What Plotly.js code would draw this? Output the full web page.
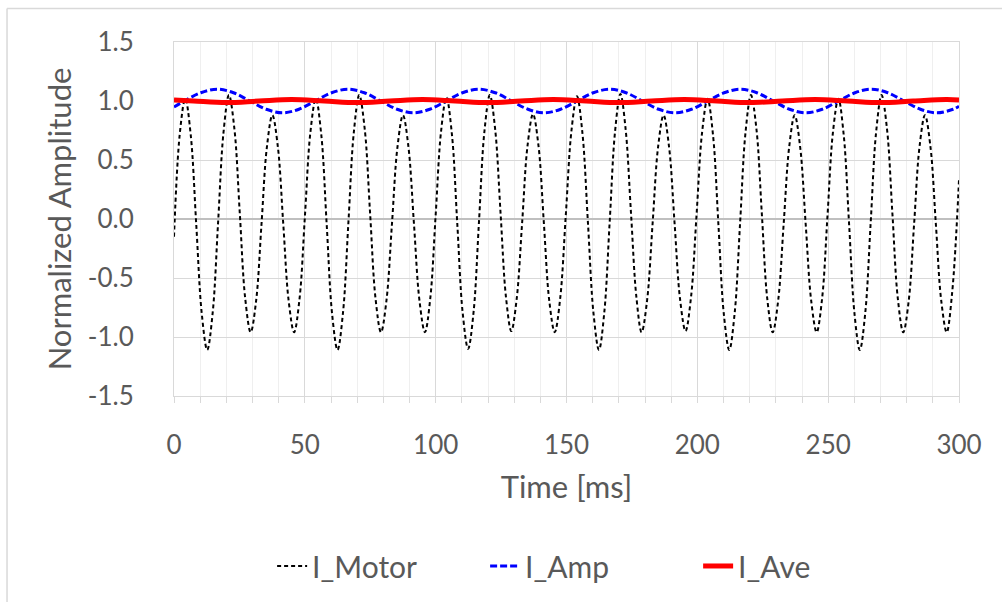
<!DOCTYPE html>
<html>
<head>
<meta charset="utf-8">
<script src="https://cdn.plot.ly/plotly-3.0.1.min.js"></script>
<style>
  html, body { margin: 0; padding: 0; background: #ffffff; }
  #chart { width: 1002px; height: 602px; }
</style>
</head>
<body>
<div id="chart"></div>
<script>
// ---- Data ----
const seriesNames = ["I_Motor", "I_Amp", "I_Ave"];

const motorTime = [
  0, 2.2, 4.3, 6.4, 8.5, 10.6, 12.7, 14.8, 16.85, 18.9, 21.0, 23.1, 25.15, 27.2, 29.3,
  31.4, 33.45, 35.5, 37.6, 39.7, 41.75, 43.8, 45.9, 48.0, 50.05, 52.1, 54.2,
  56.3, 58.35, 60.4, 62.5, 64.6, 66.65, 68.7, 70.8, 72.9, 74.95, 77.0, 79.1,
  81.2, 83.3, 85.4, 87.5, 89.6, 91.7, 93.8, 95.9, 97.95, 100.0, 102.05, 104.1,
  106.2, 108.25, 110.3, 112.4, 114.5, 116.55, 118.6, 120.7, 122.75, 124.8, 126.85, 128.9,
  130.95, 133.05, 135.1, 137.2, 139.3, 141.35, 143.4, 145.5, 147.6, 149.75, 151.9, 154.0,
  156.1, 158.2, 160.3, 162.4, 164.45, 166.5, 168.55, 170.6, 172.6, 174.65, 176.7, 178.7,
  180.8, 182.9, 185.0, 187.1, 189.2, 191.3, 193.4, 195.5, 197.6, 199.7, 201.8, 203.9,
  206.0, 208.05, 210.1, 212.2, 214.3, 216.35, 218.4, 220.5, 222.6, 224.65, 226.7, 228.8,
  230.9, 233.0, 235.1, 237.2, 239.3, 241.4, 243.5, 245.6, 247.7, 249.75, 251.8, 253.9,
  255.95, 258.0, 260.05, 262.1, 264.2, 266.25, 268.3, 270.4, 272.5, 274.55, 276.6, 278.7,
  280.8, 282.85, 284.9, 287.0, 289.1, 291.15, 293.2, 295.3, 297.4, 300.0
];
const motorValue = [
  -0.15, 0.72, 1.02, 0.71, -0.045, -0.80, -1.11, -0.79, -0.03, 0.73, 1.05, 0.76, 0.045, -0.67, -0.96,
  -0.69, -0.04, 0.61, 0.88, 0.61, -0.04, -0.69, -0.96, -0.67, 0.03, 0.73, 1.02,
  0.71, -0.045, -0.80, -1.11, -0.79, -0.03, 0.73, 1.05, 0.76, 0.045, -0.67, -0.96,
  -0.69, -0.04, 0.61, 0.88, 0.61, -0.04, -0.69, -0.96, -0.67, 0.035, 0.74, 1.03,
  0.72, -0.035, -0.79, -1.10, -0.785, -0.025, 0.735, 1.05, 0.757, 0.05, -0.657, -0.95,
  -0.68, -0.03, 0.62, 0.89, 0.62, -0.035, -0.69, -0.96, -0.67, 0.04, 0.75, 1.04,
  0.725, -0.035, -0.795, -1.11, -0.79, -0.025, 0.74, 1.06, 0.76, 0.05, -0.66, -0.96,
  -0.69, -0.04, 0.61, 0.88, 0.61, -0.035, -0.68, -0.95, -0.66, 0.035, 0.73, 1.02,
  0.71, -0.045, -0.80, -1.11, -0.79, -0.03, 0.73, 1.05, 0.76, 0.045, -0.67, -0.96,
  -0.69, -0.04, 0.61, 0.88, 0.61, -0.04, -0.69, -0.96, -0.67, 0.03, 0.73, 1.02,
  0.71, -0.045, -0.80, -1.11, -0.79, -0.03, 0.73, 1.05, 0.76, 0.045, -0.67, -0.96,
  -0.69, -0.04, 0.61, 0.88, 0.61, -0.04, -0.69, -0.96, -0.62, 0.33
];

const ampTime = [
  0, 4, 10.25, 16.5, 22.75, 29, 35.25, 41.5, 47.75, 54, 60.25, 66.5, 72.75, 79, 85.25,
  91.5, 97.75, 104, 110.25, 116.5, 122.75, 129, 135.25, 141.5, 147.75, 154, 160.25,
  166.5, 172.75, 179, 185.25, 191.5, 197.75, 204, 210.25, 216.5, 222.75, 229, 235.25,
  241.5, 247.75, 254, 260.25, 266.5, 272.75, 279, 285.25, 291.5, 297.75, 300
];
const ampValue = [
  0.95, 1.00, 1.07, 1.10, 1.07, 1.00, 0.93, 0.90, 0.93, 1.00, 1.07, 1.10, 1.07, 1.00, 0.93,
  0.90, 0.93, 1.00, 1.07, 1.10, 1.07, 1.00, 0.93, 0.90, 0.93, 1.00, 1.07,
  1.10, 1.07, 1.00, 0.93, 0.90, 0.93, 1.00, 1.07, 1.10, 1.07, 1.00, 0.93,
  0.90, 0.93, 1.00, 1.07, 1.10, 1.07, 1.00, 0.93, 0.90, 0.93, 0.955
];

const aveTime = [
  0, 7.5, 20, 32.5, 45, 57.5, 70, 82.5, 95, 107.5, 120, 132.5, 145, 157.5, 170,
  182.5, 195, 207.5, 220, 232.5, 245, 257.5, 270, 282.5, 295, 300
];
const aveValue = [
  1.008, 1.0, 0.987, 1.0, 1.012, 1.0, 0.987, 1.0, 1.012, 1.0, 0.987, 1.0, 1.012, 1.0, 0.987,
  1.0, 1.012, 1.0, 0.987, 1.0, 1.012, 1.0, 0.987, 1.0, 1.012, 1.009
];

const xTickVals = [0, 50, 100, 150, 200, 250, 300];
const xTickText = ["0", "50", "100", "150", "200", "250", "300"];
const yTickVals = [-1.5, -1.0, -0.5, 0.0, 0.5, 1.0, 1.5];
const yTickText = ["-1.5", "-1.0", "-0.5", "0.0", "0.5", "1.0", "1.5"];

// ---- Chart ----
const FONT = "Lato, 'Open Sans', sans-serif";
const TXT = "#595959";

const traces = [
  {
    x: motorTime, y: motorValue, name: seriesNames[0], type: "scatter", mode: "lines",
    line: { color: "#000000", width: 2, dash: "4px,3px", shape: "spline", smoothing: 1 }
  },
  {
    x: ampTime, y: ampValue, name: seriesNames[1], type: "scatter", mode: "lines",
    line: { color: "#0000ff", width: 3, dash: "7px,3px", shape: "spline", smoothing: 1 }
  },
  {
    x: aveTime, y: aveValue, name: seriesNames[2], type: "scatter", mode: "lines",
    line: { color: "#ff0000", width: 5, shape: "spline", smoothing: 1 }
  }
];

const layout = {
  width: 1002, height: 602,
  margin: { l: 174, r: 43, t: 42, b: 205, pad: 0 },
  paper_bgcolor: "#ffffff", plot_bgcolor: "#ffffff",
  font: { family: FONT, color: TXT, size: 26 },
  showlegend: true,
  legend: {
    orientation: "h", x: 0.532, xanchor: "center", y: -0.476, yanchor: "middle",
    font: { family: FONT, color: TXT, size: 30 }, traceorder: "normal",
    itemwidth: 30, entrywidth: 168, entrywidthmode: "pixels", bgcolor: "rgba(0,0,0,0)"
  },
  xaxis: {
    range: [0, 300], tickmode: "array", tickvals: xTickVals, ticktext: xTickText,
    showgrid: true, gridcolor: "#d9d9d9", gridwidth: 1,
    zeroline: false, showline: true, mirror: true, linecolor: "#d9d9d9", linewidth: 1,
    ticks: "outside", ticklen: 6, tickcolor: "#d9d9d9", tickwidth: 1,
    ticklabelstandoff: 20,
    minor: { dtick: 10, showgrid: true, gridcolor: "#efefef", gridwidth: 1,
             ticks: "outside", ticklen: 6, tickcolor: "#d9d9d9" },
    tickfont: { family: FONT, color: TXT, size: 26 },
    title: { text: "Time [ms]", font: { family: FONT, color: TXT, size: 31 }, standoff: 17 },
    automargin: false, fixedrange: true
  },
  yaxis: {
    range: [-1.5, 1.5], tickmode: "array", tickvals: yTickVals, ticktext: yTickText,
    showgrid: true, gridcolor: "#d9d9d9", gridwidth: 1,
    zeroline: true, zerolinecolor: "#bfbfbf", zerolinewidth: 1.5,
    showline: true, mirror: true, linecolor: "#d9d9d9", linewidth: 1,
    ticks: "", ticklabelstandoff: 34,
    tickfont: { family: FONT, color: TXT, size: 26 },
    title: { text: "Normalized Amplitude", font: { family: FONT, color: TXT, size: 31 }, standoff: 6 },
    automargin: false, fixedrange: true
  },
  shapes: [
    { type: "line", xref: "paper", yref: "paper",
      x0: -0.2127, x1: -0.2127, y0: 1.0948, y1: -0.62,
      line: { color: "#d9d9d9", width: 1.5 } },
    { type: "line", xref: "paper", yref: "paper",
      x0: -0.2127, x1: 1.1, y0: 1.0948, y1: 1.0948,
      line: { color: "#d9d9d9", width: 1.5 } }
  ]
};

Plotly.newPlot("chart", traces, layout, { staticPlot: true, displayModeBar: false });
</script>
</body>
</html>
